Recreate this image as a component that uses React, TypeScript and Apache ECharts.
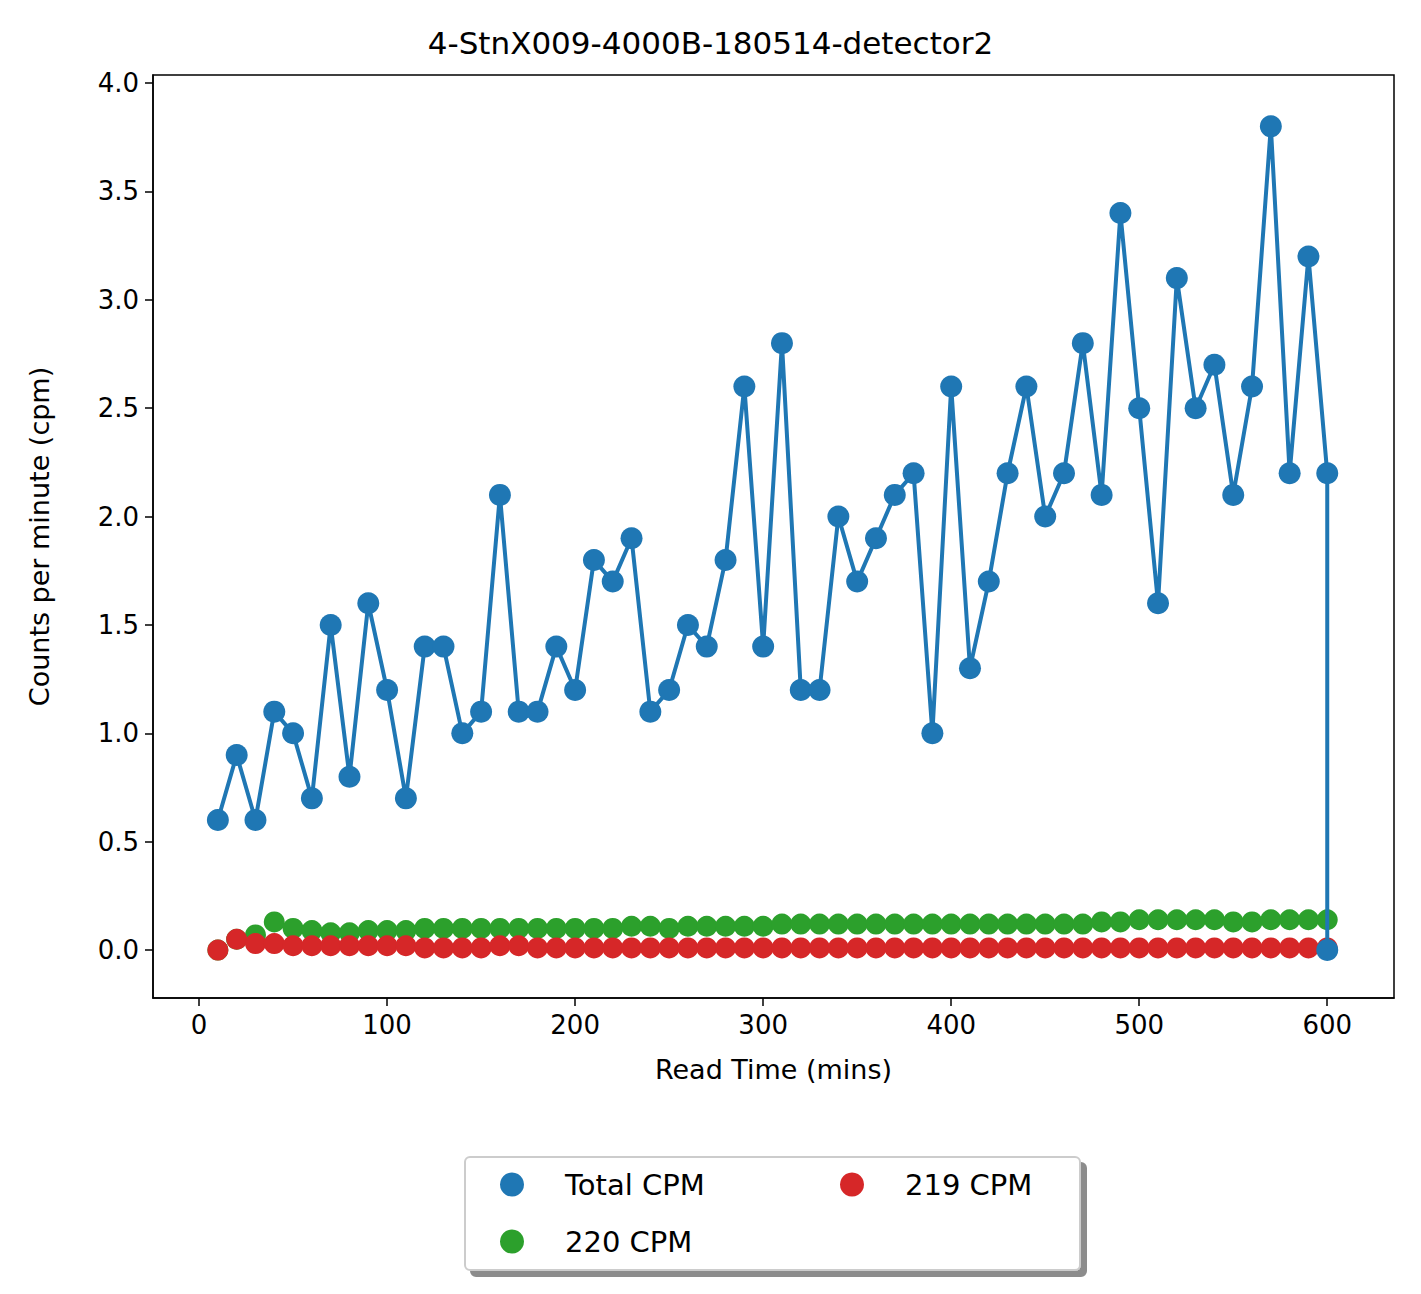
import { useEffect, useRef } from 'react';
import * as echarts from 'echarts';

const readTimes = [10, 20, 30, 40, 50, 60, 70, 80, 90, 100, 110, 120, 130, 140, 150, 160, 170, 180, 190, 200, 210, 220, 230, 240, 250, 260, 270, 280, 290, 300, 310, 320, 330, 340, 350, 360, 370, 380, 390, 400, 410, 420, 430, 440, 450, 460, 470, 480, 490, 500, 510, 520, 530, 540, 550, 560, 570, 580, 590, 600];
const totalCpm = [0.6, 0.9, 0.6, 1.1, 1.0, 0.7, 1.5, 0.8, 1.6, 1.2, 0.7, 1.4, 1.4, 1.0, 1.1, 2.1, 1.1, 1.1, 1.4, 1.2, 1.8, 1.7, 1.9, 1.1, 1.2, 1.5, 1.4, 1.8, 2.6, 1.4, 2.8, 1.2, 1.2, 2.0, 1.7, 1.9, 2.1, 2.2, 1.0, 2.6, 1.3, 1.7, 2.2, 2.6, 2.0, 2.2, 2.8, 2.1, 3.4, 2.5, 1.6, 3.1, 2.5, 2.7, 2.1, 2.6, 3.8, 2.2, 3.2, 2.2];
const cpm220 = [0.0, 0.05, 0.07, 0.13, 0.1, 0.09, 0.08, 0.08, 0.09, 0.09, 0.09, 0.1, 0.1, 0.1, 0.1, 0.1, 0.1, 0.1, 0.1, 0.1, 0.1, 0.1, 0.11, 0.11, 0.1, 0.11, 0.11, 0.11, 0.11, 0.11, 0.12, 0.12, 0.12, 0.12, 0.12, 0.12, 0.12, 0.12, 0.12, 0.12, 0.12, 0.12, 0.12, 0.12, 0.12, 0.12, 0.12, 0.13, 0.13, 0.14, 0.14, 0.14, 0.14, 0.14, 0.13, 0.13, 0.14, 0.14, 0.14, 0.14];
const cpm219 = [0.0, 0.05, 0.03, 0.03, 0.02, 0.02, 0.02, 0.02, 0.02, 0.02, 0.02, 0.01, 0.01, 0.01, 0.01, 0.02, 0.02, 0.01, 0.01, 0.01, 0.01, 0.01, 0.01, 0.01, 0.01, 0.01, 0.01, 0.01, 0.01, 0.01, 0.01, 0.01, 0.01, 0.01, 0.01, 0.01, 0.01, 0.01, 0.01, 0.01, 0.01, 0.01, 0.01, 0.01, 0.01, 0.01, 0.01, 0.01, 0.01, 0.01, 0.01, 0.01, 0.01, 0.01, 0.01, 0.01, 0.01, 0.01, 0.01, 0.01];
const xTicks = [0, 100, 200, 300, 400, 500, 600];
const yTicks = [0, 0.5, 1, 1.5, 2, 2.5, 3, 3.5, 4];

const font = 'DejaVu Sans';

export default function App() {
  const ref = useRef<HTMLDivElement>(null);

  useEffect(() => {
    document.body.style.margin = '0';
    if (!ref.current) return;
    const chart = echarts.init(ref.current, null, { renderer: 'svg' });
    const totalData = readTimes.map((t, i) => [t, totalCpm[i]]);
    totalData.push([600, 0]);
    const legendBase = {
      orient: 'vertical',
      top: 1170,
      itemGap: 28,
      itemWidth: 24,
      itemHeight: 24,
      padding: 0,
      textStyle: { fontFamily: font, fontSize: 29, color: '#000', padding: [0, 0, 0, 36] },
    };
    chart.setOption({
      animation: false,
      backgroundColor: '#fff',
      textStyle: { fontFamily: font },
      title: {
        text: '4-StnX009-4000B-180514-detector2',
        left: 'center',
        top: 22,
        textStyle: { fontFamily: font, fontSize: 31, fontWeight: 'normal', color: '#000' },
      },
      grid: { left: 153, top: 75, width: 1241, height: 923 },
      graphic: [
        {
          type: 'rect',
          shape: { x: 153, y: 75, width: 1241, height: 923 },
          style: { fill: 'none', stroke: '#000', lineWidth: 1.5 },
          silent: true,
          z: 10,
        },
        {
          type: 'rect',
          shape: { x: 465, y: 1157, width: 615, height: 113, r: 5 },
          style: { fill: '#fff', stroke: '#ccc', lineWidth: 2, shadowColor: 'rgba(0,0,0,0.45)', shadowOffsetX: 6, shadowOffsetY: 6, shadowBlur: 0 },
          silent: true,
          z: -1,
        },
      ],
      xAxis: {
        type: 'value',
        min: -24.5,
        max: 635.5,
        name: 'Read Time (mins)',
        nameLocation: 'middle',
        nameGap: 58,
        nameTextStyle: { fontFamily: font, fontSize: 27, color: '#000' },
        axisLine: { onZero: false, lineStyle: { color: '#000', width: 1.5 } },
        axisTick: { show: true, customValues: xTicks, length: 8, lineStyle: { color: '#000', width: 1.5 } },
        axisLabel: { customValues: xTicks, fontSize: 26, color: '#000', margin: 14 },
        splitLine: { show: false },
      },
      yAxis: {
        type: 'value',
        min: -0.221,
        max: 4.037,
        name: 'Counts per minute (cpm)',
        nameLocation: 'middle',
        nameGap: 100,
        nameTextStyle: { fontFamily: font, fontSize: 27, color: '#000' },
        axisLine: { show: true, onZero: false, lineStyle: { color: '#000', width: 1.5 } },
        axisTick: { show: true, customValues: yTicks, length: 8, lineStyle: { color: '#000', width: 1.5 } },
        axisLabel: { customValues: yTicks, fontSize: 26, color: '#000', margin: 14, formatter: (v: number) => v.toFixed(1) },
        splitLine: { show: false },
      },
      legend: [
        {
          ...legendBase,
          left: 500,
          data: [
            { name: 'Total CPM', icon: 'circle' },
            { name: '220 CPM', icon: 'circle' },
          ],
        },
        {
          ...legendBase,
          left: 840,
          data: [{ name: '219 CPM', icon: 'circle' }],
        },
      ],
      series: [
        {
          name: 'Total CPM',
          type: 'line',
          data: totalData,
          symbol: 'circle',
          symbolSize: 22,
          lineStyle: { color: '#1f77b4', width: 4 },
          itemStyle: { color: '#1f77b4' },
        },
        {
          name: '220 CPM',
          type: 'scatter',
          data: readTimes.map((t, i) => [t, cpm220[i]]),
          symbolSize: 21,
          itemStyle: { color: '#2ca02c', opacity: 1 },
        },
        {
          name: '219 CPM',
          type: 'scatter',
          data: readTimes.map((t, i) => [t, cpm219[i]]),
          symbolSize: 21,
          itemStyle: { color: '#d62728', opacity: 1 },
        },
      ],
    });
    return () => chart.dispose();
  }, []);

  return <div ref={ref} style={{ width: 1421, height: 1294 }} />;
}
